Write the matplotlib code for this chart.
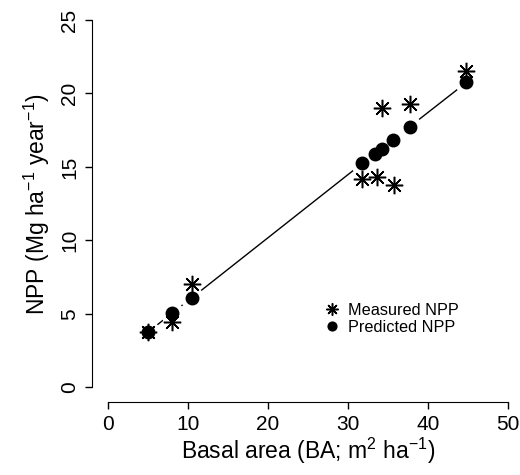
import matplotlib
matplotlib.use("Agg")
import matplotlib.pyplot as plt

plt.rcParams['font.family'] = ['Liberation Sans', 'DejaVu Sans']
plt.rcParams['mathtext.fontset'] = 'custom'
plt.rcParams['mathtext.rm'] = 'Liberation Sans'
plt.rcParams['mathtext.it'] = 'Liberation Sans:italic'
plt.rcParams['mathtext.default'] = 'regular'

# Data
measured_ba = [5.0, 8.0, 10.5, 31.7, 33.6, 35.7, 34.2, 37.75, 44.8]
measured_npp = [3.75, 4.45, 7.05, 14.2, 14.3, 13.75, 19.0, 19.3, 21.5]
predicted_ba = [5.0, 8.0, 10.5, 31.8, 33.4, 34.2, 35.6, 37.75, 44.8]
predicted_npp = [3.75, 5.05, 6.1, 15.25, 15.9, 16.25, 16.85, 17.75, 20.75]
xticks = [0, 10, 20, 30, 40, 50]
yticks = [0, 5, 10, 15, 20, 25]

fig = plt.figure(figsize=(5.2, 4.75), dpi=100)
ax = fig.add_axes([92/520, (475-402)/475, 432/520, (402-5.3)/475])
ax.set_xlim(-2, 52)
ax.set_ylim(-1, 26)

# line with gaps (R type="b")
ax.plot(predicted_ba, predicted_npp, color='black', lw=1.0, zorder=1)
ax.plot(predicted_ba, predicted_npp, linestyle='none', marker='o', markersize=17,
        markerfacecolor='white', markeredgecolor='none', zorder=2)

ax.plot(measured_ba, measured_npp, linestyle='none', marker=(8, 2, 0), markersize=12.5,
        markeredgewidth=1.1, color='black', zorder=3, label='Measured NPP')
ax.plot(predicted_ba, predicted_npp, linestyle='none', marker='o', markersize=9,
        color='black', zorder=4, label='Predicted NPP')

for s in ['top', 'right']:
    ax.spines[s].set_visible(False)
ax.spines['left'].set_bounds(0, 25)
ax.spines['bottom'].set_bounds(0, 50)
ax.set_xticks(xticks)
ax.set_yticks(yticks)
ax.set_xticklabels([str(v) for v in xticks], fontsize=15)
ax.set_yticklabels([str(v) for v in yticks], fontsize=15, rotation=90, va='center')
ax.tick_params(direction='out', length=5, width=1, pad=4)

ax.set_xlabel('Basal area (BA; m$^{2}$ ha$^{-1}$)', fontsize=16.5, labelpad=2)
ax.set_ylabel('NPP (Mg ha$^{-1}$ year$^{-1}$)', fontsize=16.5, labelpad=6)

leg = ax.legend(loc='upper left', bbox_to_anchor=(0.518, 0.267), frameon=False,
                fontsize=11.7, handletextpad=0.4, labelspacing=0.12, handlelength=1.2,
                borderaxespad=0, markerscale=0.7)

fig.savefig('out.png', dpi=100)
